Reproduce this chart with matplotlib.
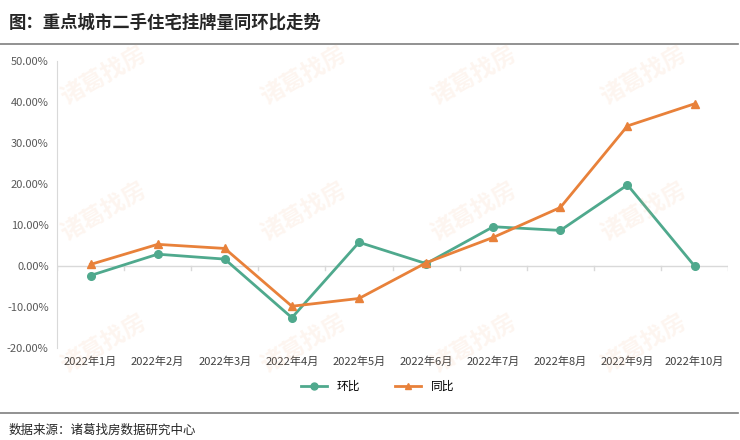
import matplotlib.pyplot as plt
from matplotlib.lines import Line2D

plt.rcParams['font.family'] = ['Noto Sans CJK SC', 'DejaVu Sans']

months = ['2022年1月', '2022年2月', '2022年3月', '2022年4月', '2022年5月',
          '2022年6月', '2022年7月', '2022年8月', '2022年9月', '2022年10月']
mom = [-2.3, 2.9, 1.7, -12.6, 5.8, 0.6, 9.6, 8.7, 19.8, 0.0]   # 环比
yoy = [0.4, 5.3, 4.3, -9.8, -7.9, 0.8, 7.0, 14.3, 34.2, 39.6]  # 同比
yticks = [-20, -10, 0, 10, 20, 30, 40, 50]

green = '#4fa98d'
orange = '#e8813a'

fig = plt.figure(figsize=(7.4, 4.4), dpi=100)
ax = fig.add_axes([0.077, 0.209, 0.907, 0.652])

x = list(range(len(months)))
ax.plot(x, mom, color=green, lw=2, marker='o', ms=5.5, label='环比', zorder=3)
ax.plot(x, yoy, color=orange, lw=2, marker='^', ms=6, label='同比', zorder=3)

ax.set_xlim(-0.5, len(months) - 0.5)
ax.set_ylim(-20, 50)
ax.set_yticks(yticks)
ax.set_yticklabels(['%.2f%%' % v for v in yticks], fontsize=8, color='#595959')
ax.set_xticks(x)
ax.set_xticklabels(months, fontsize=8, color='#404040')
ax.tick_params(axis='both', length=0, pad=6)

for s in ['top', 'right', 'bottom']:
    ax.spines[s].set_visible(False)
ax.spines['left'].set_color('#d9d9d9')
ax.axhline(0, color='#d9d9d9', lw=1, zorder=1)
for b in range(len(months) + 1):
    ax.plot([b - 0.5, b - 0.5], [0, -0.9], color='#d9d9d9', lw=1, zorder=1)

# watermarks
for wx, wy in [(0.14, 0.83), (0.41, 0.83), (0.64, 0.83), (0.87, 0.83),
               (0.14, 0.52), (0.41, 0.52), (0.64, 0.52), (0.87, 0.52),
               (0.14, 0.22), (0.41, 0.22), (0.64, 0.22), (0.87, 0.22)]:
    fig.text(wx, wy, '诸葛找房', fontsize=17, color='#f4b183', alpha=0.12,
             rotation=30, ha='center', va='center', weight='bold')

handles = [Line2D([], [], color=green, lw=2, marker='o', ms=5),
           Line2D([], [], color=orange, lw=2, marker='^', ms=5)]
fig.legend(handles, ['环比', '同比'], loc='center', bbox_to_anchor=(0.51, 0.122),
           ncol=2, frameon=False, fontsize=8.5, handlelength=2.2, columnspacing=3)

fig.text(0.012, 0.948, '图：重点城市二手住宅挂牌量同环比走势', fontsize=12.5,
         weight='bold', color='#262626', va='center')
fig.add_artist(Line2D([0, 0.997], [0.9, 0.9], color='#7f7f7f', lw=1.2))
fig.add_artist(Line2D([0, 0.997], [0.061, 0.061], color='#7f7f7f', lw=1.2))
fig.text(0.012, 0.022, '数据来源：诸葛找房数据研究中心', fontsize=9,
         color='#262626', va='center')

fig.savefig('out.png', dpi=100)
